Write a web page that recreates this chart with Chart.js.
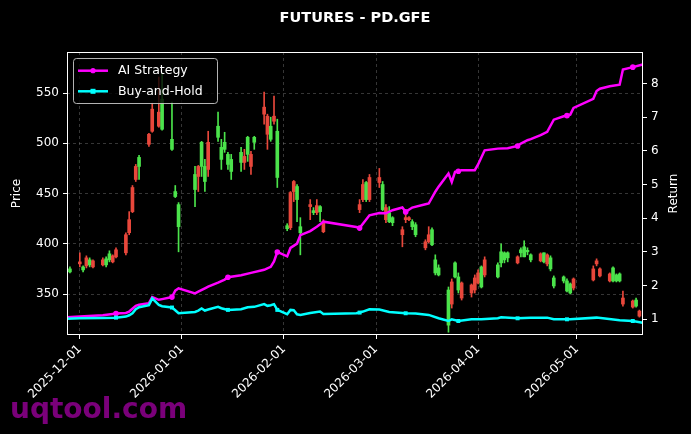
<!DOCTYPE html>
<html>
<head>
<meta charset="utf-8">
<script src="https://cdn.jsdelivr.net/npm/chart.js@4.4.1/dist/chart.umd.min.js"></script>
<style>
html,body{margin:0;padding:0;background:#000;}
canvas{display:block;}
</style>
</head>
<body>
<canvas id="c" width="691" height="434"></canvas>
<script>
// ---- data (day offsets from 2025-12-01) ----
const tickDays = [0, 31, 62, 90, 121, 151];
const tickLabels = ['2025-12-01','2026-01-01','2026-02-01','2026-03-01','2026-04-01','2026-05-01'];
const priceTicks = [350, 400, 450, 500, 550];
const returnTicks = [1, 2, 3, 4, 5, 6, 7, 8];

const candleDays = [-3,0,1,2,3,4,7,8,9,10,11,14,15,16,17,18,21,22,24,25,28,29,30,35,36,37,38,39,42,43,44,45,46,49,50,51,52,53,56,57,58,59,60,63,64,65,66,67,70,71,72,73,74,85,86,87,88,91,92,93,94,95,98,99,100,101,102,105,106,107,108,109,112,113,114,115,116,119,120,121,122,123,127,128,129,130,133,134,135,136,137,140,141,142,143,144,147,148,149,150,156,157,158,161,162,163,164,165,168,169,170];
const opens  = [372,382,374,386,379,383,384,379,384,388,394,409,424,456,477,477,509,534,531,514,494,447,417,454,477,477,462,501,506,484,494,479,472,481,487,489,489,501,536,527,504,527,466,415,451,462,444,411,439,431,438,432,422,439,459,444,466,466,434,436,422,421,414,426,426,417,409,402,409,399,371,369,319,362,367,354,361,359,366,371,357,384,367,381,384,386,387,391,387,392,384,390,382,389,375,358,363,353,351,365,375,383,375,370,363,363,363,346,343,338,333];
const highs  = [377,391,378,388,386,384,386,387,393,389,396,411,432,458,479,488,510,540,566,570,541,458,441,477,478,502,484,512,531,504,511,491,489,496,494,507,492,507,551,529,526,547,524,420,452,463,459,426,444,436,444,438,424,444,464,462,469,475,462,439,437,427,417,429,427,424,421,404,417,416,389,379,357,365,382,371,362,360,369,374,378,387,381,400,392,392,388,396,403,396,390,391,391,390,388,368,368,365,361,366,378,385,376,371,377,370,371,353,344,346,334];
const lows   = [371,377,372,376,377,376,378,377,382,381,386,389,409,431,462,464,497,511,516,513,493,446,392,437,452,467,452,467,502,474,491,474,464,472,474,482,469,494,519,494,502,519,456,413,414,442,422,389,424,429,429,422,411,431,442,442,442,456,433,421,421,418,397,421,423,414,407,394,401,398,369,368,312,336,366,351,344,347,351,360,356,367,366,377,381,382,380,387,387,389,382,382,381,378,373,356,361,352,350,354,363,378,367,362,362,362,362,338,336,337,327];
const closes = [375,380,377,378,384,377,379,385,390,382,387,391,411,432,464,486,499,512,517,544,504,452,439,469,467,501,477,474,517,496,501,489,484,491,481,506,477,506,529,509,517,522,512,418,416,452,457,417,437,433,431,437,412,434,444,461,444,461,459,424,431,426,409,424,424,422,419,396,402,414,384,376,354,340,381,367,346,351,354,361,377,369,379,392,391,391,381,394,397,393,389,383,391,380,386,366,367,363,360,356,364,380,368,363,376,369,370,340,337,344,328];

const aiDays   = [-4,0,7,10,11,14,15,17,18,21,22,24,25,28,29,30,35,36,38,39,42,44,45,49,52,56,58,59,60,63,64,66,67,70,72,73,74,84,85,88,91,93,95,98,99,101,105,106,108,109,112,113,114,115,116,120,121,123,127,130,133,134,136,137,140,142,143,144,147,148,149,150,156,157,158,161,164,165,168,171];
const aiReturn = [1.06,1.08,1.12,1.16,1.17,1.19,1.23,1.40,1.43,1.48,1.66,1.58,1.60,1.66,1.85,1.92,1.77,1.82,1.92,1.97,2.09,2.18,2.25,2.31,2.38,2.47,2.56,2.72,3.00,2.87,3.12,3.25,3.50,3.62,3.75,3.82,3.90,3.74,3.71,4.09,4.16,4.15,4.24,4.32,4.19,4.32,4.42,4.44,4.79,4.94,5.33,5.08,5.38,5.40,5.43,5.43,5.60,6.02,6.07,6.08,6.15,6.22,6.32,6.35,6.47,6.57,6.75,6.93,7.03,7.05,7.08,7.28,7.55,7.78,7.85,7.92,7.97,8.42,8.49,8.57];

const bhDays   = [-4,0,7,11,14,15,16,17,18,21,22,24,25,28,29,30,35,36,37,38,39,42,43,45,49,51,53,56,57,58,59,60,63,64,65,66,67,70,73,74,84,85,86,88,91,94,99,102,106,109,112,113,115,119,122,127,128,133,137,142,144,148,149,157,164,168,171];
const bhReturn = [1.02,1.03,1.04,1.05,1.08,1.12,1.18,1.30,1.36,1.42,1.62,1.43,1.39,1.35,1.27,1.18,1.22,1.26,1.32,1.26,1.29,1.37,1.33,1.28,1.30,1.36,1.37,1.45,1.40,1.42,1.45,1.28,1.15,1.28,1.27,1.15,1.13,1.19,1.23,1.16,1.18,1.20,1.23,1.30,1.29,1.22,1.18,1.17,1.13,1.03,0.95,1.00,0.95,1.00,1.00,1.03,1.06,1.03,1.05,1.05,1.00,1.00,1.00,1.05,0.97,0.95,0.90];

const markerDays = [11, 28, 45, 60, 85, 99, 115, 133, 148, 168];

// ---- style ----
const UP = '#4be34b', DOWN = '#e8473b';
const AI_COLOR = '#ff00ff', BH_COLOR = '#00ffff';
const FONT = 'DejaVu Sans';
const candleColors = candleDays.map((d, i) => closes[i] >= opens[i] ? UP : DOWN);

const decor = {
  id: 'decor',
  beforeDraw(chart) {
    const ctx = chart.ctx;
    ctx.save();
    ctx.fillStyle = '#000';
    ctx.fillRect(0, 0, chart.width, chart.height);
    ctx.restore();
  },
  afterDraw(chart) {
    const {ctx, chartArea: a} = chart;
    ctx.save();
    // frame
    ctx.strokeStyle = '#fff';
    ctx.lineWidth = 1;
    ctx.strokeRect(a.left + 0.5, a.top + 0.5, a.right - a.left - 1, a.bottom - a.top - 1);
    // title
    ctx.fillStyle = '#fff';
    ctx.font = 'bold 14.5px "' + FONT + '"';
    ctx.textAlign = 'center';
    ctx.textBaseline = 'middle';
    ctx.fillText('FUTURES - PD.GFE', (a.left + a.right) / 2, 18);
    // axis titles
    ctx.font = '12px "' + FONT + '"';
    const cy = (a.top + a.bottom) / 2;
    ctx.save(); ctx.translate(17, cy); ctx.rotate(-Math.PI / 2); ctx.fillText('Price', 0, 0); ctx.restore();
    ctx.save(); ctx.translate(674, cy); ctx.rotate(-Math.PI / 2); ctx.fillText('Return', 0, 0); ctx.restore();
    // legend
    const lx = 73.5, ly = 58.5, lw = 144, lh = 45;
    ctx.beginPath();
    ctx.roundRect(lx, ly, lw, lh, 3);
    ctx.fillStyle = 'rgba(0,0,0,0.8)';
    ctx.fill();
    ctx.strokeStyle = 'rgba(210,210,210,0.85)';
    ctx.lineWidth = 1;
    ctx.stroke();
    const items = [
      {label: chart.data.datasets[1].label, color: AI_COLOR, y: 70.7, shape: 'circle'},
      {label: chart.data.datasets[0].label, color: BH_COLOR, y: 91.3, shape: 'rect'}
    ];
    items.forEach(it => {
      ctx.strokeStyle = it.color;
      ctx.lineWidth = 2.5;
      ctx.beginPath(); ctx.moveTo(78, it.y); ctx.lineTo(108, it.y); ctx.stroke();
      ctx.fillStyle = it.color;
      if (it.shape === 'circle') { ctx.beginPath(); ctx.arc(93, it.y, 2.6, 0, Math.PI * 2); ctx.fill(); }
      else { ctx.fillRect(90.5, it.y - 2.5, 5, 5); }
      ctx.fillStyle = '#fff';
      ctx.font = '12.5px "' + FONT + '"';
      ctx.textAlign = 'left';
      ctx.textBaseline = 'middle';
      ctx.fillText(it.label, 118, it.y + 0.5);
    });
    // watermark
    ctx.font = 'bold 28px "' + FONT + '"';
    ctx.fillStyle = 'rgba(135,0,135,0.9)';
    ctx.textAlign = 'left';
    ctx.textBaseline = 'alphabetic';
    ctx.fillText('uqtool.com', 10, 418);
    ctx.restore();
  }
};

const gridColor = 'rgba(150,150,150,0.45)';
const markerRadius = (ctx) => (ctx.raw && markerDays.includes(ctx.raw.x)) ? 2.8 : 0;

new Chart(document.getElementById('c'), {
  type: 'bar',
  data: {
    datasets: [
      {
        type: 'line', label: 'Buy-and-Hold', yAxisID: 'y2', order: 0,
        data: bhDays.map((d, i) => ({x: d, y: bhReturn[i]})),
        borderColor: BH_COLOR, backgroundColor: BH_COLOR, borderWidth: 2.5,
        pointStyle: 'rect', pointRadius: markerRadius, pointBorderWidth: 0,
        pointBackgroundColor: BH_COLOR, tension: 0, fill: false
      },
      {
        type: 'line', label: 'AI Strategy', yAxisID: 'y2', order: 1,
        data: aiDays.map((d, i) => ({x: d, y: aiReturn[i]})),
        borderColor: AI_COLOR, backgroundColor: AI_COLOR, borderWidth: 2.5,
        pointStyle: 'circle', pointRadius: markerRadius, pointBorderWidth: 0,
        pointBackgroundColor: AI_COLOR, tension: 0, fill: false
      },
      {
        label: 'body', yAxisID: 'y', order: 2,
        data: candleDays.map((d, i) => ({x: d, y: [opens[i], closes[i]]})),
        backgroundColor: candleColors, barThickness: 3, grouped: false, minBarLength: 1.5
      },
      {
        label: 'wick', yAxisID: 'y', order: 3,
        data: candleDays.map((d, i) => ({x: d, y: [lows[i], highs[i]]})),
        backgroundColor: candleColors, barThickness: 1, grouped: false
      }
    ]
  },
  options: {
    responsive: false,
    devicePixelRatio: 1,
    animation: false,
    events: [],
    layout: {padding: {top: 52, left: 0, right: 0, bottom: 0}},
    plugins: {legend: {display: false}, tooltip: {enabled: false}, title: {display: false}},
    scales: {
      x: {
        type: 'linear', min: -3.89, max: 171.1, offset: false,
        afterBuildTicks: s => { s.ticks = tickDays.map(v => ({value: v})); },
        afterFit: s => { s.height = 434 - 335; },
        ticks: {
          color: '#fff', font: {family: FONT, size: 12}, autoSkip: false,
          maxRotation: 45, minRotation: 45, padding: 3,
          callback: v => tickLabels[tickDays.indexOf(v)]
        },
        grid: {offset: false, color: gridColor, lineWidth: 0.8, tickColor: '#fff', tickLength: 4, tickWidth: 1, borderDash: [3, 3], tickBorderDash: []},
        border: {display: false, dash: [3, 3]}
      },
      y: {
        type: 'linear', position: 'left', min: 309.2, max: 590.9,
        afterBuildTicks: s => { s.ticks = priceTicks.map(v => ({value: v})); },
        afterFit: s => { s.width = 67; },
        ticks: {color: '#fff', font: {family: FONT, size: 12}, padding: 4},
        grid: {offset: false, color: gridColor, lineWidth: 0.8, tickColor: '#fff', tickLength: 4, tickWidth: 1, borderDash: [3, 3], tickBorderDash: []},
        border: {display: false, dash: [3, 3]}
      },
      y2: {
        type: 'linear', position: 'right', min: 0.534, max: 8.94,
        afterBuildTicks: s => { s.ticks = returnTicks.map(v => ({value: v})); },
        afterFit: s => { s.width = 48; },
        ticks: {color: '#fff', font: {family: FONT, size: 12}, padding: 4},
        grid: {offset: false, drawOnChartArea: false, tickColor: '#fff', tickLength: 4, tickWidth: 1},
        border: {display: false}
      }
    }
  },
  plugins: [decor]
});
</script>
</body>
</html>
